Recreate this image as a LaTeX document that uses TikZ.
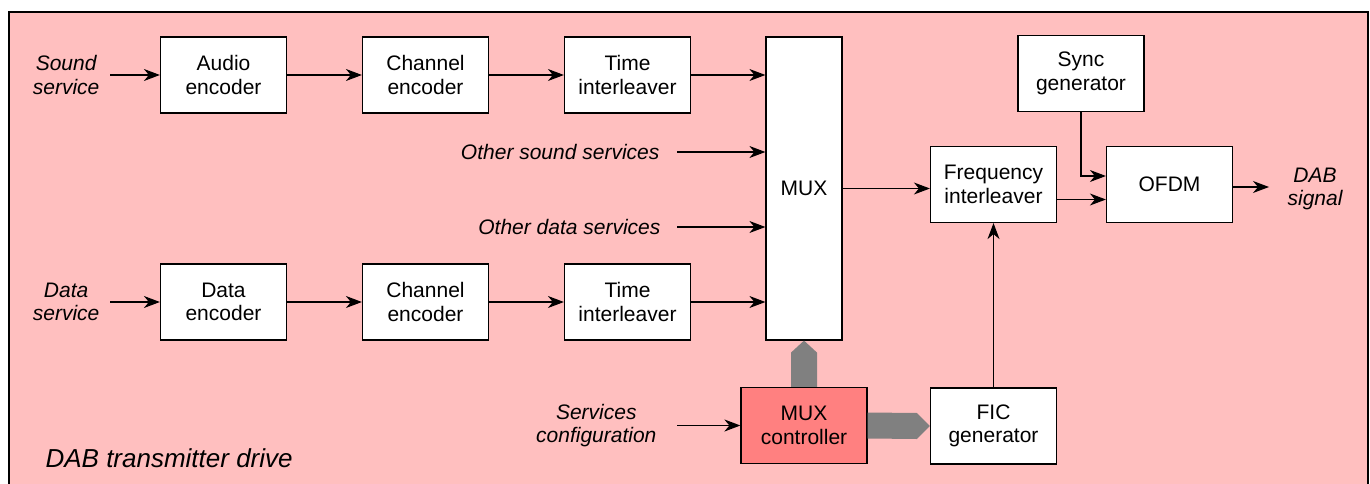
\documentclass[tikz,border=0pt]{standalone}
\usepackage{fontspec}
\setmainfont{Liberation Sans}
\usetikzlibrary{arrows.meta,positioning}
\definecolor{drivepink}{RGB}{255,191,191}
\definecolor{ctrlred}{RGB}{255,128,128}
\definecolor{busgrey}{RGB}{128,128,128}
\tikzset{
    block/.style={
      rectangle,
      draw=black, line width=1.2pt,
      fill=white,
      minimum width=126pt,
      minimum height=76pt,
      inner sep=2pt,
      align=center,
      font=\fontsize{21}{23.5}\selectfont,
    },
    tag/.style={
      align=center,
      inner ysep=0pt,
      font=\fontsize{21}{23.5}\selectfont\itshape,
    },
    bus/.style={
      fill=busgrey, draw=none,
    },
}

\begin{document}
\begin{tikzpicture}[x=1pt,y=-1pt,line width=1.2pt,
    ->,>={Stealth[length=16pt,width=12pt,inset=5pt]}]

    \useasboundingbox (0,0) rectangle (1370,484);
    \clip (0,0) rectangle (1370,484);

    % frame of the drive
    \draw[-,fill=drivepink,line width=1.5pt] (9,12) rectangle (1368,500);
    \node[anchor=base west, inner sep=0pt,
      font=\fontsize{26}{30}\selectfont\itshape] (title) at (45,467)
    {DAB transmitter drive};

    % sound chain
    \node[block] (audio) at (223.5,75) {Audio\\encoder};
    \node[block, right of=audio, node distance=202pt] (chanA) {Channel\\encoder};
    \node[block, right of=chanA, node distance=202pt] (timeA) {Time\\interleaver};

    % data chain
    \node[block, below of=audio, node distance=227pt] (data) {Data\\encoder};
    \node[block, right of=data, node distance=202pt] (chanB) {Channel\\encoder};
    \node[block, right of=chanB, node distance=202pt] (timeB) {Time\\interleaver};

    % multiplexer and its controller
    \node[block, minimum width=76pt, minimum height=303pt] (mux) at (804,188.5) {MUX};
    \node[block, fill=ctrlred, below of=mux, node distance=237pt] (ctrl) {MUX\\controller};

    % output side
    \node[block] (freq) at (993.5,184.5) {Frequency\\interleaver};
    \node[block, right of=freq, node distance=176pt] (ofdm) {OFDM};
    \node[block, below of=freq, node distance=241.5pt] (fic) {FIC\\generator};
    \node[block] (sync) at (1081,73.5) {Sync\\generator};

    % inputs and output
    \node[tag, anchor=east, inner xsep=10pt] (sound) at (110,75) {Sound\\service};
    \node[tag, anchor=east, inner xsep=10pt] (datain) at (110,302) {Data\\service};
    \node[tag, anchor=east, inner xsep=17pt] (oss) at (677,152) {Other sound services};
    \node[tag, anchor=east, inner xsep=16pt] (ods) at (677,227) {Other data services};
    \node[tag, anchor=east, inner xsep=20pt] (cfg) at (677,425.5) {Services\\configuration};
    \node[tag, anchor=west, inner xsep=18pt] (dab) at (1269,189) {DAB\\signal};

    \path
    (sound) edge (audio)
    (audio) edge (chanA)
    (chanA) edge (timeA)
    (timeA) edge (timeA -| mux.west)

    (oss) edge (oss -| mux.west)
    (ods) edge (ods -| mux.west)

    (datain) edge (data)
    (data)  edge (chanB)
    (chanB) edge (timeB)
    (timeB) edge (timeB -| mux.west)

    (mux) edge (mux -| freq.west)
    ([yshift=-15pt]freq.east) edge ([yshift=-15pt]freq.east -| ofdm.west)
    (fic)  edge (freq)
    ([yshift=-2.5pt]ofdm.east) edge ([yshift=-2.5pt]ofdm.east -| dab.west)
    (cfg)  edge[line width=1.6pt] (ctrl);

    \draw (sync) |- ([yshift=8.5pt]ofdm.west);

    % control buses
    \fill[bus] ([xshift=-13pt]ctrl.north) -- ([xshift=-13pt,yshift=-12pt]mux.south)
      -- (mux.south) -- ([xshift=13pt,yshift=-12pt]mux.south)
      -- ([xshift=13pt]ctrl.north) -- cycle;
    \fill[bus] ([yshift=13pt]ctrl.east) -- ([xshift=-13pt,yshift=13pt]fic.west)
      -- (fic.west) -- ([xshift=-13pt,yshift=-13pt]fic.west)
      -- ([yshift=-13pt]ctrl.east) -- cycle;

\end{tikzpicture}
\end{document}
